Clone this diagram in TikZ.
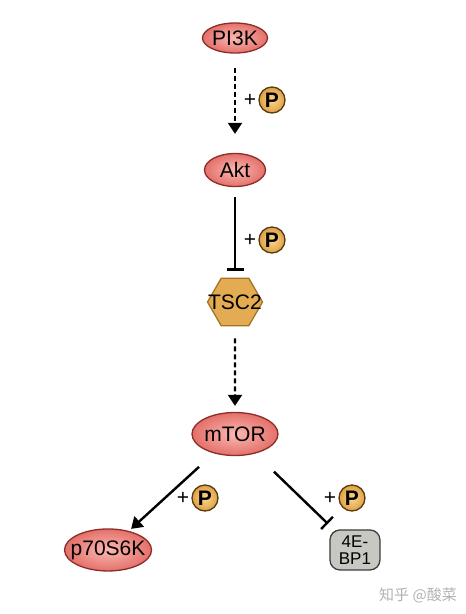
\documentclass[tikz,border=0pt]{standalone}
\usepackage{fontspec}
\setmainfont{Liberation Sans}
\newfontfamily\cjkfont{Noto Sans CJK SC}
\usetikzlibrary{shapes.geometric, arrows.meta}

\definecolor{ellline}{RGB}{140,45,42}
\definecolor{ellin}{RGB}{250,185,178}
\definecolor{ellout}{RGB}{228,112,106}
\definecolor{hexline}{RGB}{165,115,40}
\definecolor{hexfill}{RGB}{228,172,82}
\definecolor{phosline}{RGB}{85,60,15}
\definecolor{phosin}{RGB}{250,215,140}
\definecolor{phosout}{RGB}{225,160,70}
\definecolor{greyline}{RGB}{60,60,60}
\definecolor{greyfill}{RGB}{200,200,194}

\begin{document}
\begin{tikzpicture}[x=1pt, y=1pt, node distance={132pt}, line width=2.4pt,
    main/.style = {draw=ellline, line width=1.3pt, ellipse, inner sep=-10pt, inner color=ellin, outer color=ellout, font=\fontsize{21}{24}\selectfont},
    hexa/.style = {draw=hexline, line width=1.3pt, regular polygon, regular polygon sides=6, inner sep=-12pt, minimum size=55pt, fill=hexfill, font=\fontsize{21}{24}\selectfont},
    greybox/.style = {draw=greyline, line width=1.3pt, rounded corners=10pt, fill=greyfill, minimum width=50pt, minimum height=40pt, inner sep=0pt, align=center, font=\fontsize{17}{17}\selectfont},
    phos/.style = {draw=phosline, line width=1.3pt, circle, inner color=phosin, outer color=phosout, minimum size=26pt, inner sep=0pt, font=\fontsize{21}{24}\selectfont\bfseries, label={[font=\fontsize{21}{24}\selectfont, inner sep=1pt]left:+}},
    act/.style = {-{Triangle[width=14pt, length=11pt]}},
    inhib/.style = {-{Bar[width=17pt, line width=2.4pt]}},
    dashline/.style = {dash pattern=on 5pt off 3pt}]
        \useasboundingbox (0,0) rectangle (466,-614);
        \node[main, minimum width=65pt, minimum height=30pt] (pi3k) at (235,-38) {PI3K};
        \node[main, minimum width=61pt, minimum height=33pt] (akt) [below of=pi3k] {Akt};
        \node[hexa] (tsc2) [below of=akt] {TSC2};
        \node[main, minimum width=86pt, minimum height=43pt] (mtor) [below of=tsc2] {mTOR};
        \node[main, minimum width=87pt, minimum height=42pt] (p70) [below left of=mtor, node distance=164pt, xshift=-11pt] {p70S6K};
        \node[greybox] (ebp1) [below right of=mtor, node distance=164pt, xshift=4pt] {4E-\\BP1};
        % phosphorylation marks
        \node[phos] (ph1) at (272,-100) {P};
        \node[phos] (ph2) at (272,-240) {P};
        \node[phos] (ph3) at (205,-498) {P};
        \node[phos] (ph4) at (352,-498) {P};
        \draw[act, dashline, shorten <=14pt, shorten >=19pt] (pi3k) -- (akt);
        \draw[inhib, shorten <=10pt, shorten >=7pt] (akt) -- (tsc2);
        \draw[act, dashline, shorten <=12pt, shorten >=6pt] (tsc2) -- (mtor);
        \draw[act, shorten <=20pt, shorten >=3pt] (mtor) -- (p70);
        \draw[inhib, shorten <=26pt, shorten >=8pt] (mtor) -- (ebp1);
        \node[text=black!30, font=\cjkfont\fontsize{15}{18}\selectfont] (wmark) at (418,-595) {知乎 @酸菜};
    \end{tikzpicture}
\end{document}
